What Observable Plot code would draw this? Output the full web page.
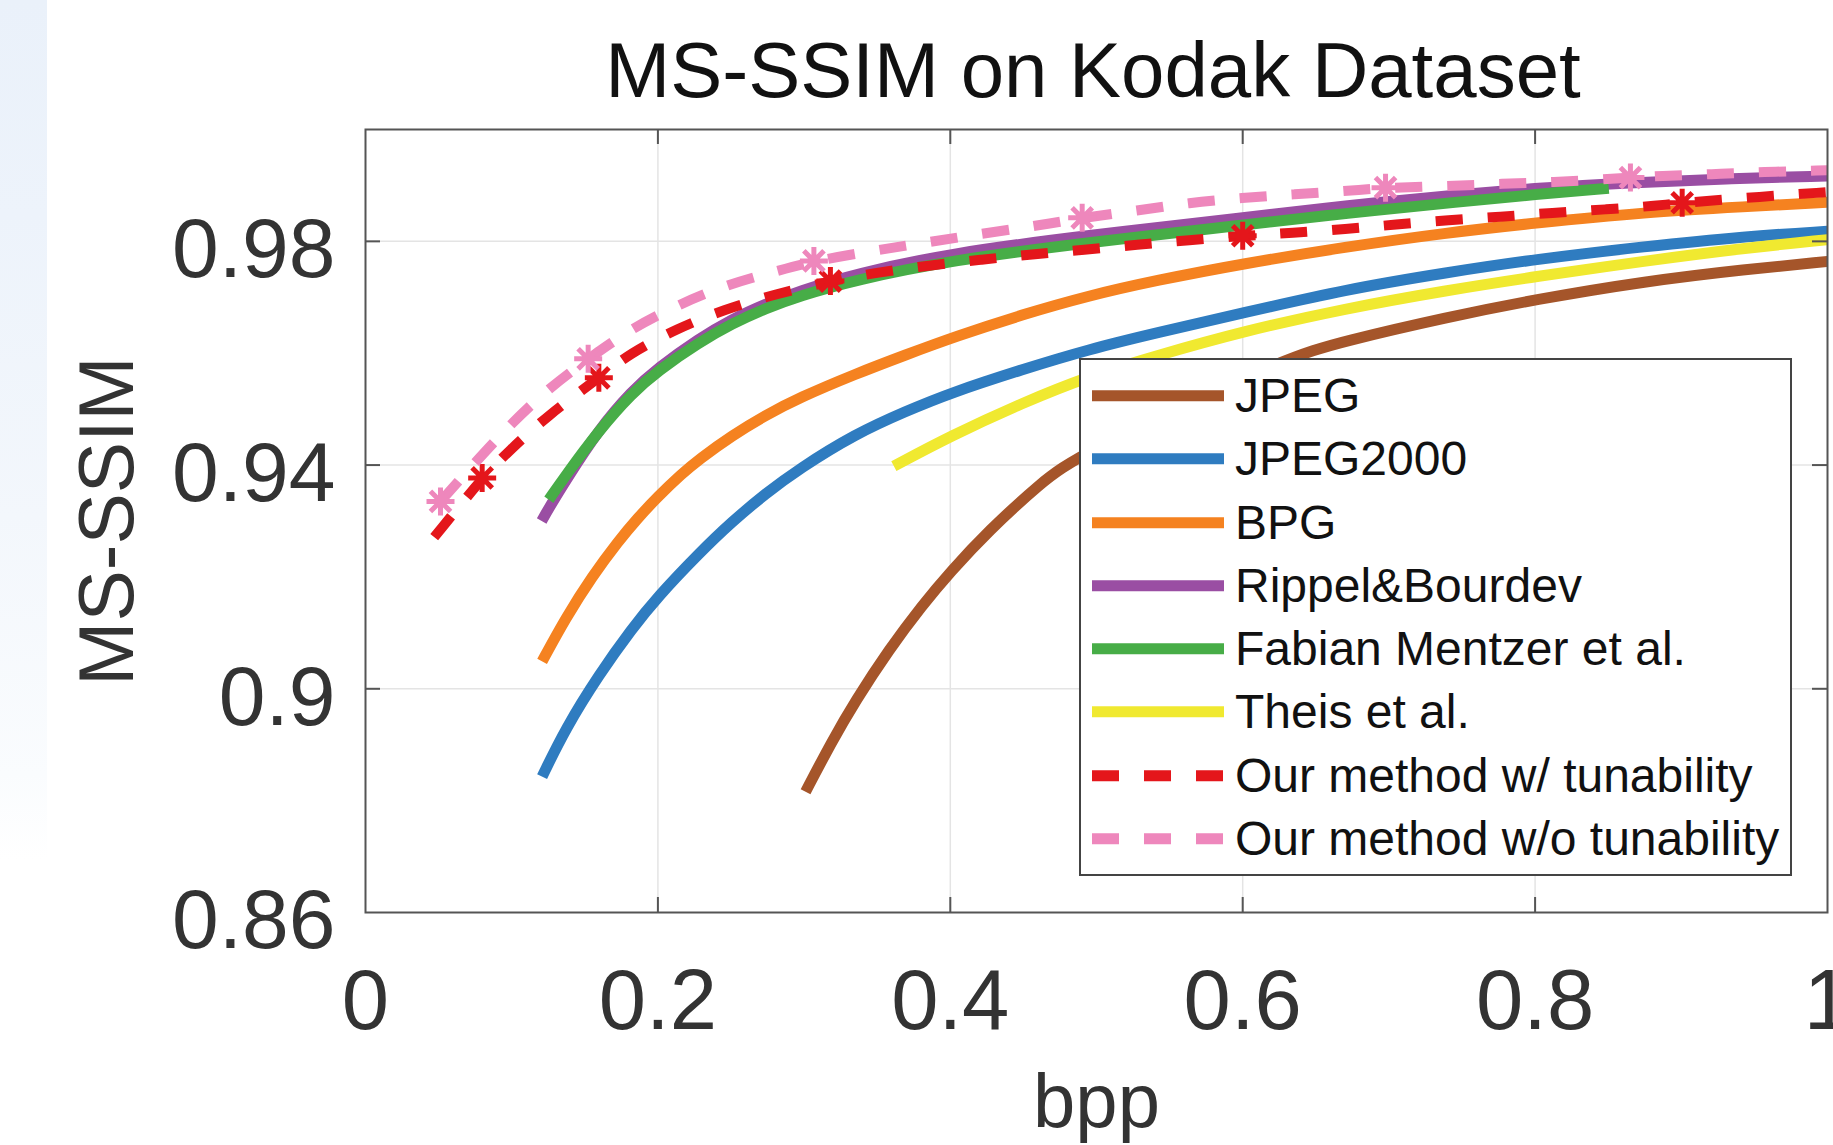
<!DOCTYPE html>
<html><head><meta charset="utf-8">
<script src="https://cdn.jsdelivr.net/npm/d3@7"></script>
<script src="https://cdn.jsdelivr.net/npm/@observablehq/plot@0.6"></script>
<style>
html,body{margin:0;padding:0;background:#fff;}
body{width:1833px;height:1145px;position:relative;overflow:hidden;font-family:"Liberation Sans",Arial,Helvetica,sans-serif;}
#strip{position:absolute;left:0;top:0;width:47px;height:860px;background:linear-gradient(to bottom,#eaf1fa 0%,#edf3fb 25%,#f3f7fc 60%,#fafcfe 90%,#ffffff 100%);}
#title{position:relative;height:110px;box-sizing:border-box;padding-top:31px;font-size:78px;line-height:78px;color:#111;white-space:nowrap;}
#title span{position:absolute;left:1093px;transform:translateX(-50%);}
#chart{position:relative;}
#legend{position:absolute;left:1079px;top:358px;width:713px;height:518px;box-sizing:border-box;border:2px solid #444;background:#fff;padding-top:4px;}
.row{height:63.3px;line-height:63.3px;font-size:48px;color:#111;position:relative;white-space:nowrap;}
.row svg{position:absolute;left:11px;top:0;}
.row span{position:absolute;left:154px;}
</style></head><body>
<div id="strip"></div>
<div id="title"><span>MS-SSIM on Kodak Dataset</span></div>
<div id="chart"></div>
<div id="legend"></div>
<script>
// ---- data ----
const seriesNames = ["JPEG","JPEG2000","BPG","Rippel&Bourdev","Fabian Mentzer et al.","Theis et al.","Our method w/ tunability","Our method w/o tunability"];
const seriesColors = ["#a5552a","#2f7cc0","#f58220","#9a4ea3","#47ad47","#f0e930","#e4161b","#ee87bc"];
const seriesDashed = [false,false,false,false,false,false,true,true];

const jpegX = [0.301,0.319,0.335,0.358,0.381,0.400,0.426,0.461,0.488,0.629,0.670,0.739,0.800,0.876,0.944,1.0];
const jpegY = [0.8816,0.8906,0.8978,0.9070,0.9150,0.9209,0.9282,0.9366,0.9420,0.9592,0.9622,0.9664,0.9696,0.9729,0.9750,0.9764];

const jp2kX = [0.1208,0.1368,0.1596,0.1824,0.1997,0.228,0.2508,0.2736,0.2964,0.3352,0.3694,0.4002,0.4492,0.4948,0.5404,0.6,0.6704,0.7387,0.8003,0.8755,0.9439,1.0];
const jp2kY = [0.8843,0.8929,0.9025,0.9108,0.9164,0.9242,0.9299,0.9349,0.9393,0.9456,0.9496,0.9529,0.9571,0.9607,0.9636,0.9672,0.9714,0.9744,0.9768,0.9791,0.9809,0.9818];

const bpgX = [0.1208,0.1368,0.155,0.1733,0.1858,0.1997,0.2166,0.228,0.2508,0.2736,0.2964,0.3352,0.3694,0.4036,0.4492,0.4948,0.5404,0.6,0.6704,0.7387,0.8003,0.8755,0.9439,1.0];
const bpgY = [0.9049,0.9126,0.9201,0.9265,0.9304,0.9343,0.9385,0.9410,0.9453,0.9489,0.9520,0.9563,0.9597,0.9630,0.9669,0.9703,0.9730,0.9760,0.9790,0.9815,0.9833,0.9852,0.9862,0.9870];

const rippelX = [0.1205,0.1254,0.1368,0.1596,0.1824,0.1997,0.228,0.2508,0.2736,0.2964,0.3352,0.4002,0.4948,0.6,0.6704,0.75,0.8003,0.864,0.93,1.0];
const rippelY = [0.9300,0.9323,0.9372,0.9464,0.9533,0.9573,0.9626,0.9661,0.9688,0.9711,0.9742,0.9779,0.9811,0.9842,0.9864,0.9884,0.9895,0.9905,0.9912,0.9917];

const mentzerX = [0.1254,0.1368,0.1596,0.1824,0.1997,0.228,0.2508,0.2736,0.2964,0.3352,0.4002,0.4948,0.6,0.6704,0.75,0.8003,0.8504];
const mentzerY = [0.9338,0.9381,0.9462,0.9529,0.9568,0.9619,0.9653,0.9680,0.9702,0.9731,0.9766,0.9798,0.9829,0.9850,0.9871,0.9884,0.9895];

const theisX = [0.3614,0.4002,0.4492,0.4948,0.5404,0.6,0.6704,0.7387,0.8003,0.8755,0.9439,1.0];
const theisY = [0.9398,0.9452,0.9511,0.9559,0.9595,0.9639,0.9680,0.9712,0.9737,0.9765,0.9788,0.9803];

const oursTunX = [0.047,0.0798,0.098,0.1238,0.1596,0.1808,0.2132,0.2451,0.2793,0.318,0.349,0.3854,0.4207,0.456,0.4914,0.528,0.5632,0.6,0.634,0.6704,0.7045,0.741,0.7763,0.8117,0.848,0.8846,0.9006,0.955,1.0];
const oursTunY = [0.9271,0.9377,0.9425,0.9487,0.9556,0.9600,0.9644,0.9678,0.9705,0.9729,0.9744,0.9757,0.9767,0.9777,0.9785,0.9794,0.9802,0.9810,0.9815,0.9822,0.9830,0.9838,0.9844,0.9851,0.9857,0.9864,0.9869,0.9880,0.9888];

const oursNoTunX = [0.0513,0.0748,0.0992,0.1243,0.1523,0.1824,0.2143,0.2474,0.2816,0.3067,0.3512,0.3865,0.4218,0.4572,0.4902,0.528,0.5632,0.5997,0.635,0.6704,0.6977,0.741,0.7775,0.8128,0.8481,0.8652,0.8846,0.9211,0.9553,1.0];
const oursNoTunY = [0.9335,0.9404,0.9473,0.9535,0.9590,0.9645,0.9687,0.9723,0.9747,0.9765,0.9785,0.9799,0.9814,0.9827,0.9842,0.9855,0.9869,0.9878,0.9884,0.9890,0.9896,0.9899,0.9903,0.9906,0.9911,0.9914,0.9917,0.9920,0.9924,0.9927];

const oursTunMarkX = [0.0798,0.1596,0.318,0.6,0.9006];
const oursTunMarkY = [0.9377,0.9556,0.9729,0.9810,0.9869];
const oursNoTunMarkX = [0.0513,0.1523,0.3067,0.4902,0.6977,0.8652];
const oursNoTunMarkY = [0.9335,0.9590,0.9765,0.9842,0.9896,0.9914];

const xTicks = [0,0.2,0.4,0.6,0.8,1];
const yTicks = [0.86,0.9,0.94,0.98];
const xGrid = [0.2,0.4,0.6,0.8];
const yGrid = [0.9,0.94,0.98];

// ---- build ----
const seriesXY = [[jpegX,jpegY],[jp2kX,jp2kY],[bpgX,bpgY],[rippelX,rippelY],[mentzerX,mentzerY],[theisX,theisY],[oursTunX,oursTunY],[oursNoTunX,oursNoTunY]];
const zip = (xs, ys) => xs.map((x,i) => ({x, y: ys[i]}));
const fmt = d => String(+d.toFixed(2));
const star8 = {draw(ctx, size) {
  const r = Math.sqrt(size / Math.PI), d = r * 0.72;
  ctx.moveTo(-r,0); ctx.lineTo(r,0);
  ctx.moveTo(0,-r); ctx.lineTo(0,r);
  ctx.moveTo(-d,-d); ctx.lineTo(d,d);
  ctx.moveTo(-d,d); ctx.lineTo(d,-d);
}};

const W = 1833, H = 1035, mL = 365, mR = 6, mT = 19, mB = 233;
const innerW = W - mL - mR, innerH = H - mT - mB, tick = 15;
const frameColor = "#555";

const lineMarks = seriesXY.map(([xs, ys], i) => Plot.line(zip(xs, ys), {
  x: "x", y: "y", stroke: seriesColors[i], strokeWidth: seriesDashed[i] ? 10 : 11,
  strokeDasharray: seriesDashed[i] ? "27,25" : null, strokeLinecap: "butt",
  curve: "basis", clip: true
}));

const chart = Plot.plot({
  width: W, height: H, marginLeft: mL, marginRight: mR, marginTop: mT, marginBottom: mB,
  style: {fontFamily: "'Liberation Sans', Arial, Helvetica, sans-serif", background: "transparent"},
  x: {domain: [0, 1]},
  y: {domain: [0.86, 1.0]},
  marks: [
    Plot.ruleX(xGrid, {stroke: "#e4e4e4", strokeWidth: 1.5}),
    Plot.ruleY(yGrid, {stroke: "#e4e4e4", strokeWidth: 1.5}),
    ...lineMarks.slice(0, 7),
    Plot.dot(zip(oursTunMarkX, oursTunMarkY), {x: "x", y: "y", symbol: star8, r: 14, stroke: seriesColors[6], strokeWidth: 5, fill: "none"}),
    lineMarks[7],
    Plot.dot(zip(oursNoTunMarkX, oursNoTunMarkY), {x: "x", y: "y", symbol: star8, r: 14, stroke: seriesColors[7], strokeWidth: 5, fill: "none"}),
    Plot.frame({stroke: frameColor, strokeWidth: 2}),
    Plot.ruleX(xGrid, {stroke: frameColor, strokeWidth: 2, insetBottom: innerH - tick}),
    Plot.ruleX(xGrid, {stroke: frameColor, strokeWidth: 2, insetTop: innerH - tick}),
    Plot.ruleY(yGrid, {stroke: frameColor, strokeWidth: 2, insetRight: innerW - tick}),
    Plot.ruleY(yGrid, {stroke: frameColor, strokeWidth: 2, insetLeft: innerW - tick}),
    Plot.axisX({ticks: xTicks, tickFormat: fmt, tickSize: 0, tickPadding: 56, fontSize: 85, color: "#333", label: null}),
    Plot.axisY({ticks: yTicks, tickFormat: fmt, tickSize: 0, tickPadding: 30, fontSize: 84, dy: 9, color: "#333", label: null}),
    Plot.text(["MS-SSIM"], {text: d => d, frameAnchor: "left", textAnchor: "middle", lineAnchor: "middle", dx: -257.5, rotate: -90, fontSize: 77, fill: "#333"}),
    Plot.text(["bpp"], {text: d => d, frameAnchor: "bottom", textAnchor: "middle", lineAnchor: "middle", dy: 190, fontSize: 76, fill: "#333"})
  ]
});
document.getElementById("chart").appendChild(chart);

// ---- legend ----
const legend = document.getElementById("legend");
seriesNames.forEach((name, i) => {
  const row = document.createElement("div");
  row.className = "row";
  const dash = seriesDashed[i] ? ' stroke-dasharray="27,25"' : '';
  row.innerHTML = `<svg width="132" height="63.3"><line x1="0" x2="132" y1="31.65" y2="31.65" stroke="${seriesColors[i]}" stroke-width="11"${dash}/></svg>`;
  const span = document.createElement("span");
  span.textContent = name;
  row.appendChild(span);
  legend.appendChild(row);
});
</script>
</body></html>
